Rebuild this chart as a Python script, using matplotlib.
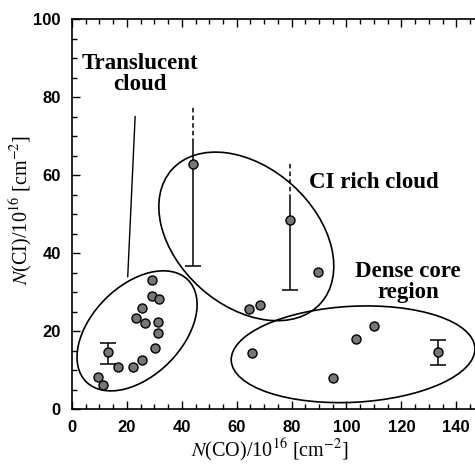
import numpy as np
import matplotlib
matplotlib.use("Agg")
import matplotlib.pyplot as plt
from matplotlib.patches import Ellipse
from matplotlib.transforms import ScaledTranslation
from matplotlib.ticker import MultipleLocator

plt.rcParams['font.family'] = ['Liberation Serif', 'DejaVu Serif']
plt.rcParams['mathtext.fontset'] = 'stix'

# translucent cloud points
tr_x = [9.4, 11.4, 13.0, 16.6, 22.1, 25.6, 23.3, 26.6, 25.6, 29.0, 29.0, 31.8, 31.2, 31.2, 30.2]
tr_y = [8.2, 6.2, 14.6, 10.8, 10.8, 12.6, 23.3, 22.0, 25.9, 33.1, 29.0, 28.2, 22.4, 19.5, 15.6]

# CI rich cloud points
ci_x = [44.0, 79.4, 89.7, 64.6, 68.5]
ci_y = [62.8, 48.5, 35.3, 25.6, 26.7]

# dense core points
dc_x = [65.7, 95.2, 103.5, 110.1, 133.4]
dc_y = [14.3, 7.9, 17.9, 21.3, 14.6]

# error bars (x, y, low, high)
eb_x = [13.0, 133.4]
eb_y = [14.6, 14.6]
eb_lo = [11.5, 11.4]
eb_hi = [17.1, 17.8]

# large error bars: bottom cap, solid top, dashed top
big_x = [44.0, 79.4]
big_y = [62.8, 48.5]
big_lo = [36.8, 30.6]
big_solid = [68.2, 53.8]
big_dash = [77.7, 63.3]

# grouping ellipses: center (data), semi-axes (px), angle (deg)
ell_cx = [23.7, 63.5, 102.4]
ell_cy = [20.1, 44.3, 14.1]
ell_a = [72, 100, 122]
ell_b = [45, 69, 48]
ell_ang = [45, -42, 3]

fig = plt.figure(figsize=(4.75, 4.68), dpi=100)
ax = fig.add_axes([0.1516, 0.1254, 0.8668, 0.834])

mk = dict(marker='o', ls='none', ms=6.5, mfc='#777777', mec='black', mew=1.0, zorder=5)

# error bars
ax.errorbar(eb_x, eb_y,
            yerr=[np.array(eb_y) - np.array(eb_lo), np.array(eb_hi) - np.array(eb_y)],
            fmt='none', ecolor='black', elinewidth=1.1, capsize=6, capthick=1.1, zorder=4)
ax.vlines(big_x, big_lo, big_solid, colors='black', lw=1.1, zorder=4)
ax.vlines(big_x, big_solid, big_dash, colors='black', lw=1.1, linestyles=(0, (3, 2)), zorder=4)
ax.plot(big_x, big_lo, marker='_', ls='none', ms=12, mew=1.1, color='black', zorder=4)

ax.plot(tr_x, tr_y, **mk)
ax.plot(ci_x, ci_y, **mk)
ax.plot(dc_x, dc_y, **mk)

for cx, cy, a, b, ang in zip(ell_cx, ell_cy, ell_a, ell_b, ell_ang):
    tr = fig.dpi_scale_trans + ScaledTranslation(cx, cy, ax.transData)
    e = Ellipse((0, 0), 2 * a / 100, 2 * b / 100, angle=ang, transform=tr,
                fill=False, ec='black', lw=1.2)
    ax.add_patch(e)

# pointer line for translucent cloud
ax.plot([23.0, 20.3], [75.0, 34.0], color='black', lw=1.0)

tkw = dict(fontsize=16.5, fontweight='bold', ha='center', va='center', linespacing=0.95)
ax.text(24.8, 85.9, 'Translucent\ncloud', **tkw)
ax.text(110.0, 58.1, 'CI rich cloud', **tkw)
ax.text(122.4, 32.6, 'Dense core\nregion', **tkw)

ax.set_xlim(0, 150)
ax.set_ylim(0, 100)
ax.xaxis.set_major_locator(MultipleLocator(20))
ax.xaxis.set_minor_locator(MultipleLocator(5))
ax.yaxis.set_major_locator(MultipleLocator(20))
ax.yaxis.set_minor_locator(MultipleLocator(5))
ax.tick_params(which='both', direction='in', top=True, right=True, width=1.0)
ax.tick_params(which='major', length=6)
ax.tick_params(which='minor', length=3.5)
ax.tick_params(axis='x', pad=8)
ax.tick_params(axis='y', pad=8)
for lab in ax.get_xticklabels() + ax.get_yticklabels():
    lab.set_fontfamily('Liberation Sans')
    lab.set_fontweight('bold')
    lab.set_fontsize(12)
for s in ax.spines.values():
    s.set_linewidth(1.2)

fig.text(0.568, 0.024, r'$\mathit{N}$(CO)/10$^{16}$ [cm$^{-2}$]', fontsize=14.5,
         ha='center', va='baseline')
fig.text(0.046, 0.551, r'$\mathit{N}$(CI)/10$^{16}$ [cm$^{-2}$]', fontsize=14.5,
         ha='center', va='center', rotation=90)

fig.savefig('out.png', dpi=100)
